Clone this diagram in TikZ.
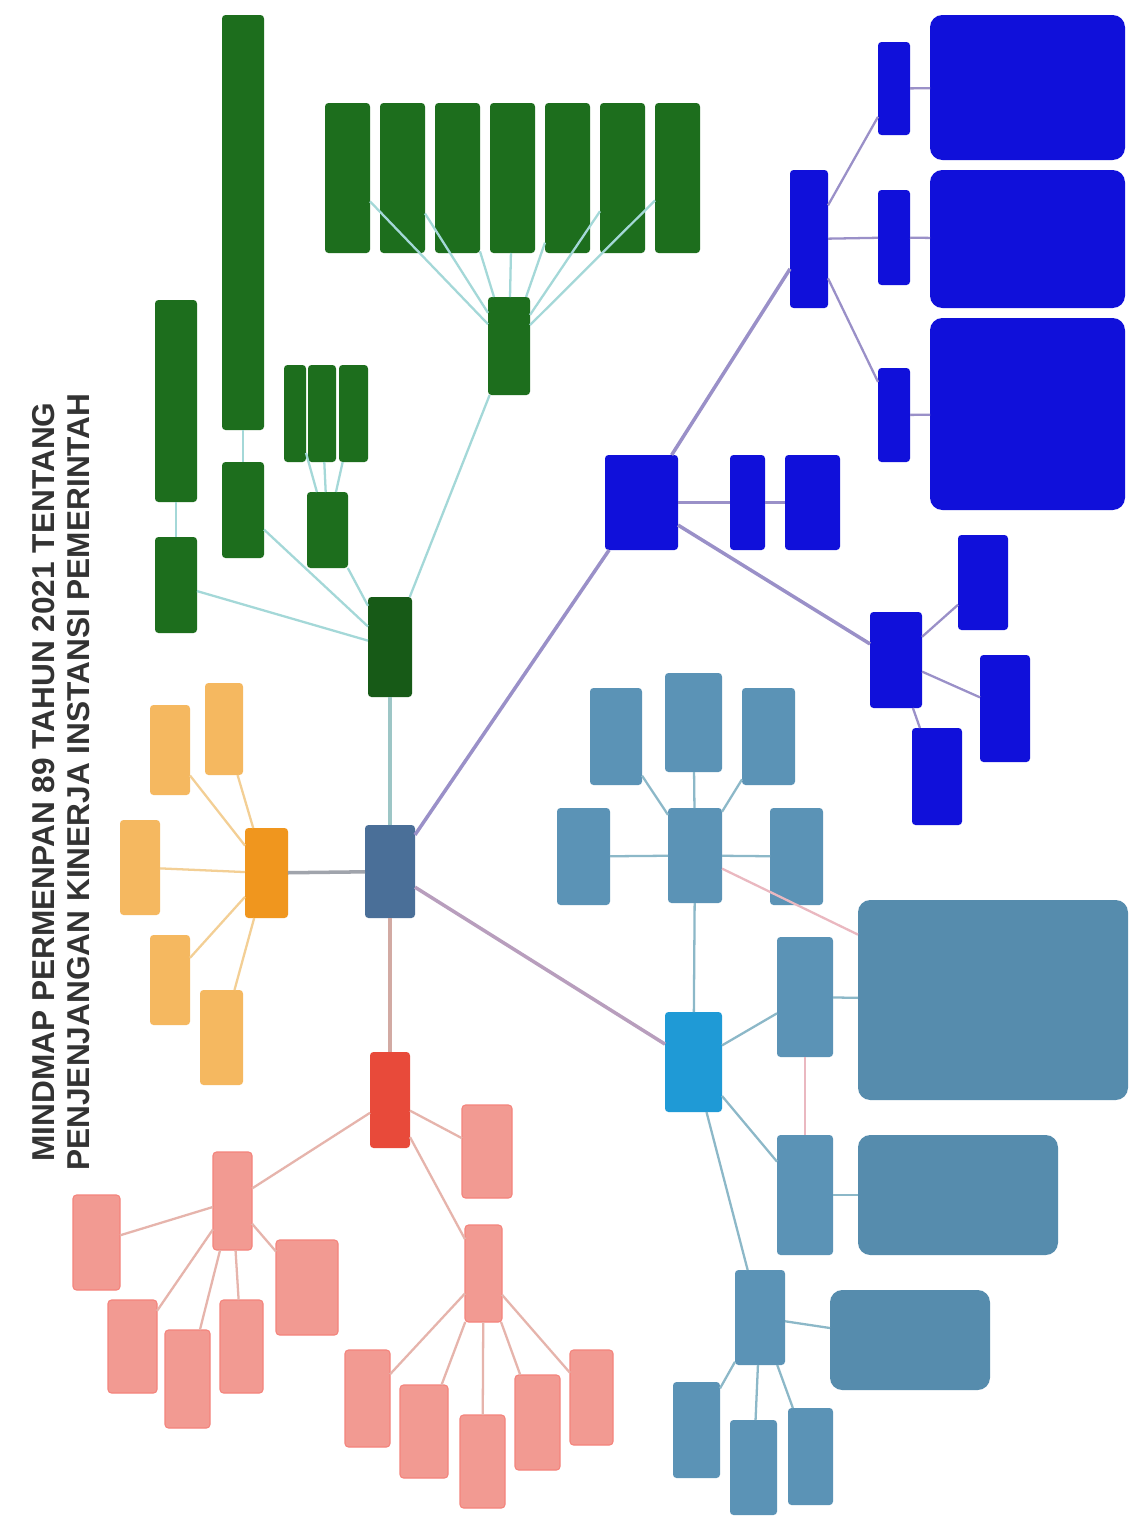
\documentclass[tikz,border=0pt]{standalone}
\usepackage{fontspec}
\setmainfont{Liberation Sans}
\definecolor{cmain}{HTML}{4A6F98}
\definecolor{orhub}{HTML}{F0961E}
\definecolor{orlt}{HTML}{F5B860}
\definecolor{rdhub}{HTML}{E84A3A}
\definecolor{rdlt}{HTML}{F29A92}
\definecolor{grn}{HTML}{1D6E1D}
\definecolor{grnhub}{HTML}{175A17}
\definecolor{blu}{HTML}{1010DA}
\definecolor{stl}{HTML}{5B93B6}
\definecolor{stlhub}{HTML}{1F9AD6}
\definecolor{lnor}{HTML}{F3CF95}
\definecolor{lnrd}{HTML}{E6B4AC}
\definecolor{lngr}{HTML}{A4D8D8}
\definecolor{lnbl}{HTML}{9A90C8}
\definecolor{lnst}{HTML}{8CB8C8}
\definecolor{lnpk}{HTML}{EAB8C0}
\definecolor{lnmain}{HTML}{A0A4AC}
\newcommand{\bx}[6]{\node[#6, minimum width={(#4-#2)*0.02cm}, minimum height={(#5-#3)*0.02cm}] (#1) at ({(#2+#4)/2},{(#3+#5)/2}) {};}
\begin{document}
\begin{tikzpicture}[x=0.02cm,y=-0.02cm,
  bbox/.style={draw=none, inner sep=0pt, outer sep=0pt, rounded corners=2pt},
  bigbox/.style={bbox, rounded corners=7pt},
  mainbox/.style={bbox, fill=cmain},
  orh/.style={bbox, fill=orhub},
  orb/.style={bbox, fill=orlt},
  rdh/.style={bbox, fill=rdhub},
  rdb/.style={bbox, fill=rdlt, draw=rdlt!85!red, line width=0.6pt},
  grb/.style={bbox, fill=grn},
  grh/.style={bbox, fill=grnhub},
  blb/.style={bbox, fill=blu},
  blbig/.style={bigbox, fill=blu},
  stb/.style={bbox, fill=stl},
  sth/.style={bbox, fill=stlhub},
  stbig/.style={bigbox, fill=stl!95!black},
  ln/.style={line width=1.3pt},
  lnthick/.style={line width=2pt}]
\useasboundingbox[fill=white] (0,0) rectangle (1132,1522);

% title
\node[rotate=90, align=center, font=\bfseries\fontsize{18}{19.5}\selectfont, text=black!80] (title) at (61,782)
 {MINDMAP PERMENPAN 89 TAHUN 2021 TENTANG\\PENJENJANGAN KINERJA INSTANSI PEMERINTAH};

% central
\bx{c}{365}{825}{415}{918}{mainbox}

% orange
\bx{oh}{245}{828}{288}{918}{orh}
\bx{o1}{150}{705}{190}{795}{orb}
\bx{o2}{205}{683}{243}{775}{orb}
\bx{o3}{120}{820}{160}{915}{orb}
\bx{o4}{150}{935}{190}{1025}{orb}
\bx{o5}{200}{990}{243}{1085}{orb}

% red
\bx{rh}{370}{1052}{410}{1148}{rdh}
\bx{ra}{213}{1152}{252}{1250}{rdb}
\bx{rb}{465}{1225}{502}{1322}{rdb}
\bx{rc}{462}{1105}{512}{1198}{rdb}
\bx{ra1}{73}{1195}{120}{1290}{rdb}
\bx{ra2}{108}{1300}{157}{1393}{rdb}
\bx{ra3}{165}{1330}{210}{1428}{rdb}
\bx{ra4}{220}{1300}{263}{1393}{rdb}
\bx{ra5}{276}{1240}{338}{1335}{rdb}
\bx{rb1}{345}{1350}{390}{1447}{rdb}
\bx{rb2}{400}{1385}{448}{1478}{rdb}
\bx{rb3}{460}{1415}{505}{1508}{rdb}
\bx{rb4}{515}{1375}{560}{1470}{rdb}
\bx{rb5}{570}{1350}{613}{1445}{rdb}

% green
\bx{gh}{368}{597}{412}{697}{grh}
\bx{g1}{155}{537}{197}{633}{grb}
\bx{g1L}{155}{300}{197}{502}{grb}
\bx{g2}{222}{462}{264}{558}{grb}
\bx{g2L}{222}{15}{264}{430}{grb}
\bx{g3}{307}{492}{348}{568}{grb}
\bx{n1}{284}{365}{306}{462}{grb}
\bx{n2}{308}{365}{336}{462}{grb}
\bx{n3}{339}{365}{368}{462}{grb}
\bx{gs}{488}{297}{530}{395}{grb}
\bx{gt1}{325}{103}{370}{253}{grb}
\bx{gt2}{380}{103}{425}{253}{grb}
\bx{gt3}{435}{103}{480}{253}{grb}
\bx{gt4}{490}{103}{535}{253}{grb}
\bx{gt5}{545}{103}{590}{253}{grb}
\bx{gt6}{600}{103}{645}{253}{grb}
\bx{gt7}{655}{103}{700}{253}{grb}

% blue
\bx{bh}{605}{455}{678}{550}{blb}
\bx{b2}{730}{455}{765}{550}{blb}
\bx{b3}{785}{455}{840}{550}{blb}
\bx{bt}{790}{170}{828}{308}{blb}
\bx{bs1}{878}{42}{910}{135}{blb}
\bx{bs2}{878}{190}{910}{285}{blb}
\bx{bs3}{878}{368}{910}{462}{blb}
\bx{bb1}{930}{15}{1125}{160}{blbig}
\bx{bb2}{930}{170}{1125}{308}{blbig}
\bx{bb3}{930}{318}{1125}{510}{blbig}
\bx{bl}{870}{612}{922}{708}{blb}
\bx{bl1}{958}{535}{1008}{630}{blb}
\bx{bl2}{980}{655}{1030}{762}{blb}
\bx{bl3}{912}{728}{962}{825}{blb}

% steel blue
\bx{ch}{665}{1012}{722}{1112}{sth}
\bx{ts}{668}{808}{722}{903}{stb}
\bx{tl}{557}{808}{610}{905}{stb}
\bx{tr}{770}{808}{823}{905}{stb}
\bx{t1}{590}{688}{642}{785}{stb}
\bx{t2}{665}{673}{722}{772}{stb}
\bx{t3}{742}{688}{795}{785}{stb}
\bx{s1}{777}{937}{833}{1057}{stb}
\bx{S1}{858}{900}{1128}{1100}{stbig}
\bx{s2}{777}{1135}{833}{1255}{stb}
\bx{S2}{858}{1135}{1058}{1255}{stbig}
\bx{s3}{735}{1270}{785}{1365}{stb}
\bx{S3}{830}{1290}{990}{1390}{stbig}
\bx{u1}{673}{1382}{720}{1478}{stb}
\bx{u2}{730}{1420}{777}{1515}{stb}
\bx{u3}{788}{1408}{833}{1505}{stb}

% ---- connectors
\draw[lnthick, lnmain] (c) -- (oh);
\draw[lnthick, lngr!80!gray] (c) -- (gh);
\draw[lnthick, lnrd!80!gray] (c) -- (rh);
\draw[lnthick, lnbl] (c) -- (bh);
\draw[lnthick, lnbl!60!lnrd] (c) -- (ch);

\foreach \n in {o1,o2,o3,o4,o5} \draw[ln, lnor] (oh) -- (\n);

\draw[ln, lnrd] (rh) -- (ra);
\draw[ln, lnrd] (rh) -- (rc);
\draw[ln, lnrd] (rh) -- (rb);
\foreach \n in {ra1,ra2,ra3,ra4,ra5} \draw[ln, lnrd] (ra) -- (\n);
\foreach \n in {rb1,rb2,rb3,rb4,rb5} \draw[ln, lnrd] (rb) -- (\n);

\draw[ln, lngr] (gh) -- (g1);
\draw[ln, lngr] (gh) -- (g2);
\draw[ln, lngr] (gh) -- (g3);
\draw[ln, lngr] (gh) -- (gs);
\draw[ln, lngr] (g1) -- (g1L);
\draw[ln, lngr] (g2) -- (g2L);
\foreach \n in {n1,n2,n3} \draw[ln, lngr] (g3) -- (\n);
\foreach \n in {gt1,gt2,gt3,gt4,gt5,gt6,gt7} \draw[ln, lngr] (gs) -- (\n);

\draw[ln, lnbl] (bh) -- (b2);
\draw[ln, lnbl] (b2) -- (b3);
\draw[lnthick, lnbl] (bh) -- (bt);
\draw[lnthick, lnbl] (bh) -- (bl);
\draw[ln, lnbl] (bt) -- (bs1);
\draw[ln, lnbl] (bt) -- (bs2);
\draw[ln, lnbl] (bt) -- (bs3);
\draw[ln, lnbl] (bs1) -- (bb1);
\draw[ln, lnbl] (bs2) -- (bb2);
\draw[ln, lnbl] (bs3) -- (bb3);
\draw[ln, lnbl] (bl) -- (bl1);
\draw[ln, lnbl] (bl) -- (bl2);
\draw[ln, lnbl] (bl) -- (bl3);

\draw[ln, lnst] (ch) -- (ts);
\draw[ln, lnst] (ts) -- (tl);
\draw[ln, lnst] (ts) -- (tr);
\draw[ln, lnst] (ts) -- (t1);
\draw[ln, lnst] (ts) -- (t2);
\draw[ln, lnst] (ts) -- (t3);
\draw[ln, lnpk] (ts) -- (S1);
\draw[ln, lnst] (ch) -- (s1);
\draw[ln, lnst] (ch) -- (s2);
\draw[ln, lnst] (ch) -- (s3);
\draw[ln, lnpk] (s1) -- (s2);
\draw[ln, lnst] (s1) -- (S1);
\draw[ln, lnst] (s2) -- (S2);
\draw[ln, lnst] (s3) -- (S3);
\draw[ln, lnst] (s3) -- (u1);
\draw[ln, lnst] (s3) -- (u2);
\draw[ln, lnst] (s3) -- (u3);
\end{tikzpicture}
\end{document}
